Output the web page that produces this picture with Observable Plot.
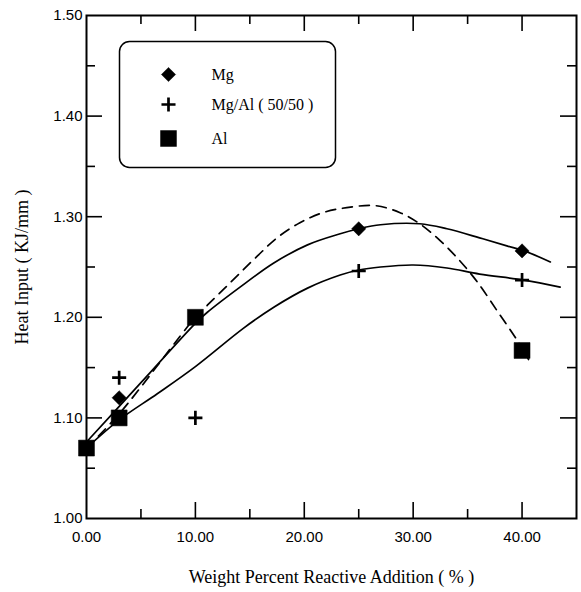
<!DOCTYPE html>
<html><head><meta charset="utf-8">
<script src="https://cdn.jsdelivr.net/npm/d3@7"></script>
<script src="https://cdn.jsdelivr.net/npm/@observablehq/plot@0.6"></script>
<style>body{margin:0;background:#fff}</style>
</head><body><div id="chart"></div>
<script>
// Measured points
const mgX = [3, 25, 40];
const mgY = [1.12, 1.288, 1.266];
const mgalX = [3, 10, 25, 40];
const mgalY = [1.14, 1.10, 1.246, 1.237];
const alX = [0, 3, 10, 40];
const alY = [1.07, 1.10, 1.20, 1.167];

// Fitted curves
const mgCurveX = [0, 5, 10, 11.1, 14.1, 17.2, 20.3, 23.3, 25, 27, 30.6, 33.1, 36.1, 38.6, 40.2, 42.6];
const mgCurveY = [1.076, 1.135, 1.194, 1.205, 1.23, 1.254, 1.272, 1.283, 1.288, 1.292, 1.293, 1.288, 1.279, 1.271, 1.266, 1.255];
const mgalCurveX = [0, 3, 6.5, 10, 14.4, 17.2, 20.3, 23.3, 25, 27, 30, 33.1, 36.1, 40.2, 43.5];
const mgalCurveY = [1.07, 1.098, 1.124, 1.151, 1.189, 1.21, 1.229, 1.242, 1.247, 1.25, 1.252, 1.249, 1.243, 1.237, 1.23];
const alCurveX = [0, 3, 10, 11.1, 12.6, 14.1, 15.7, 17.5, 19.6, 21.7, 23.9, 26.5, 28.8, 30.6, 32.5, 34.3, 35.9, 37.8, 39.5, 40.6];
const alCurveY = [1.07, 1.104, 1.20, 1.212, 1.228, 1.244, 1.261, 1.279, 1.294, 1.304, 1.309, 1.311, 1.304, 1.293, 1.276, 1.256, 1.235, 1.205, 1.178, 1.158];

const xMajor = [0, 10, 20, 30, 40];
const xMinor = [5, 15, 25, 35];
const yMajor = [1.0, 1.1, 1.2, 1.3, 1.4, 1.5];
const yMinor = [1.05, 1.15, 1.25, 1.35, 1.45];

const legendNames = ["Mg", "Mg/Al ( 50/50 )", "Al"];
const legendSymbols = ["diamond2", "plus", "square"];

const zip = (xs, ys) => xs.map((x, i) => ({x, y: ys[i]}));

const W = 581, H = 592, mL = 86, mR = 5, mT = 15, mB = 74;
const pw = W - mL - mR, ph = H - mT - mB;
const majorLen = 16, minorLen = 9;

const symSize = {diamond2: 6.4, plus: 4.6, square: 9};
const symFill = {diamond2: "black", plus: "none", square: "black"};

function dotOpts(sym) {
  return {symbol: () => sym, r: symSize[sym], fill: symFill[sym], stroke: "black",
    strokeWidth: sym === "plus" ? 2.7 : 0.5};
}

const innerX = v => v.filter(d => d > 0 && d < 45);
const innerY = v => v.filter(d => d > 1.0 && d < 1.5);

const marks = [
  Plot.axisX({ticks: xMajor, tickFormat: d3.format(".2f"), tickSize: 0, tickPadding: 13, label: null, fontSize: 15}),
  Plot.axisY({ticks: yMajor, tickFormat: d3.format(".2f"), tickSize: 0, tickPadding: 4, label: null, fontSize: 15}),
  // inward ticks, bottom/top
  Plot.ruleX(innerX(xMajor), {x: d => d, insetTop: ph - majorLen, strokeWidth: 1.6}),
  Plot.ruleX(innerX(xMinor), {x: d => d, insetTop: ph - minorLen, strokeWidth: 1.6}),
  Plot.ruleX(innerX(xMajor), {x: d => d, insetBottom: ph - majorLen, strokeWidth: 1.6}),
  Plot.ruleX(innerX(xMinor), {x: d => d, insetBottom: ph - minorLen, strokeWidth: 1.6}),
  // inward ticks, left/right
  Plot.ruleY(innerY(yMajor), {y: d => d, insetRight: pw - majorLen, strokeWidth: 1.6}),
  Plot.ruleY(innerY(yMinor), {y: d => d, insetRight: pw - minorLen, strokeWidth: 1.6}),
  Plot.ruleY(innerY(yMajor), {y: d => d, insetLeft: pw - majorLen, strokeWidth: 1.6}),
  Plot.ruleY(innerY(yMinor), {y: d => d, insetLeft: pw - minorLen, strokeWidth: 1.6}),
  Plot.frame({stroke: "black", strokeWidth: 2}),
  // legend box
  Plot.frame({stroke: "black", strokeWidth: 1.5, insetLeft: 33, insetTop: 26, insetRight: 241, insetBottom: 351, rx: 10, ry: 10}),
  // curves
  Plot.line(zip(alCurveX, alCurveY), {x: "x", y: "y", curve: "catmull-rom", stroke: "black", strokeWidth: 1.7, strokeDasharray: "10,7"}),
  Plot.line(zip(mgCurveX, mgCurveY), {x: "x", y: "y", curve: "catmull-rom", stroke: "black", strokeWidth: 1.7}),
  Plot.line(zip(mgalCurveX, mgalCurveY), {x: "x", y: "y", curve: "catmull-rom", stroke: "black", strokeWidth: 1.7}),
  // points
  Plot.dot(zip(mgX, mgY), {x: "x", y: "y", ...dotOpts("diamond2")}),
  Plot.dot(zip(mgalX, mgalY), {x: "x", y: "y", ...dotOpts("plus")}),
  Plot.dot(zip(alX, alY), {x: "x", y: "y", ...dotOpts("square")}),
  // axis titles
  Plot.text(["Weight Percent Reactive Addition ( % )"], {frameAnchor: "bottom", dy: 59, textAnchor: "middle", lineAnchor: "middle",
    fontFamily: "Liberation Serif", fontSize: 18, fill: "black"}),
  Plot.text(["Heat Input ( KJ/mm )"], {frameAnchor: "left", dx: -64, rotate: -90, textAnchor: "middle", lineAnchor: "middle",
    fontFamily: "Liberation Serif", fontSize: 18, fill: "black"})
];

const rowDy = [59, 89, 123];
legendNames.forEach((name, i) => {
  const sym = legendSymbols[i];
  marks.push(Plot.dot([name], {frameAnchor: "top-left", dx: 82, dy: rowDy[i], ...dotOpts(sym)}));
  marks.push(Plot.text([name], {frameAnchor: "top-left", dx: 125, dy: rowDy[i], textAnchor: "start", lineAnchor: "middle",
    fontFamily: "Liberation Serif", fontSize: 16, fill: "black"}));
});

const chart = Plot.plot({
  width: W, height: H,
  marginLeft: mL, marginRight: mR, marginTop: mT, marginBottom: mB,
  x: {domain: [0, 45]},
  y: {domain: [1.0, 1.5]},
  style: {fontFamily: "Liberation Sans", fontSize: "15px", background: "white", color: "black"},
  marks
});
document.getElementById("chart").appendChild(chart);
</script></body></html>
